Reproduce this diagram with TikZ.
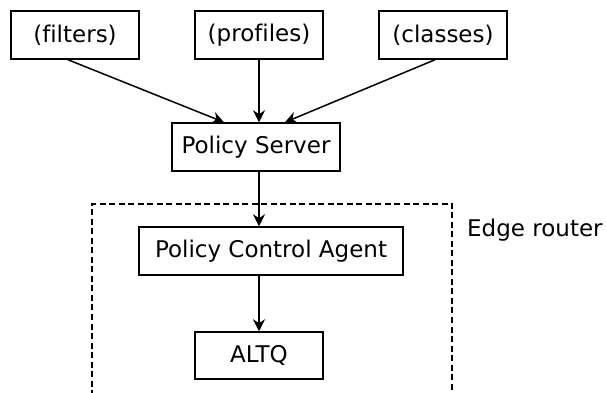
\documentclass[tikz,border=0pt]{standalone}
\usepackage{fontspec}
\setmainfont{DejaVu Sans}[Ligatures=NoCommon]
\usetikzlibrary{arrows.meta}
\begin{document}
\begin{tikzpicture}[x=1pt,y=-1pt,
  box/.style={draw=black,line width=1.5pt,inner sep=0pt,minimum height=48pt,anchor=center,
    font=\fontsize{23}{27}\selectfont},
  arr/.style={line width=1.5pt,-{Stealth[length=12pt,width=12pt,inset=4pt]}},
  router/.style={line width=1.5pt,dash pattern=on 6pt off 3.5pt}]
\useasboundingbox (0,0) rectangle (606,393);
\node[box,minimum width=128pt] (filters) at (75,35) {(filters)};
\node[box,minimum width=128pt] (profiles) at (259,35) {(profiles)};
\node[box,minimum width=128pt] (classes) at (443,35) {(classes)};
\node[box,minimum width=168pt] (ps) at (256,147) {Policy Server};
\node[box,minimum width=264pt] (pca) at (271,251) {Policy Control Agent};
\node[box,minimum width=128pt,minimum height=47pt] (altq) at (259,355.5) {ALTQ};
\coordinate (dl) at (92,396);
\coordinate (dtl) at (92,204);
\coordinate (dtr) at (452,204);
\coordinate (dr) at (452,396);
\draw[router] (dl) -- (dtl) -- (dtr) -- (dr);
\node[anchor=base west,inner sep=0pt,font=\fontsize{23}{27}\selectfont] (edge) at (467,237) {Edge router};
\draw[arr] ([xshift=-7pt]filters.south) -- ([xshift=-32pt]ps.north);
\draw[arr] (profiles.south) -- (profiles.south |- ps.north);
\draw[arr] ([xshift=-8pt]classes.south) -- ([xshift=29pt]ps.north);
\draw[arr] (altq.north |- ps.south) -- (altq.north |- pca.north);
\draw[arr] (altq.north |- pca.south) -- (altq.north);
\end{tikzpicture}
\end{document}
